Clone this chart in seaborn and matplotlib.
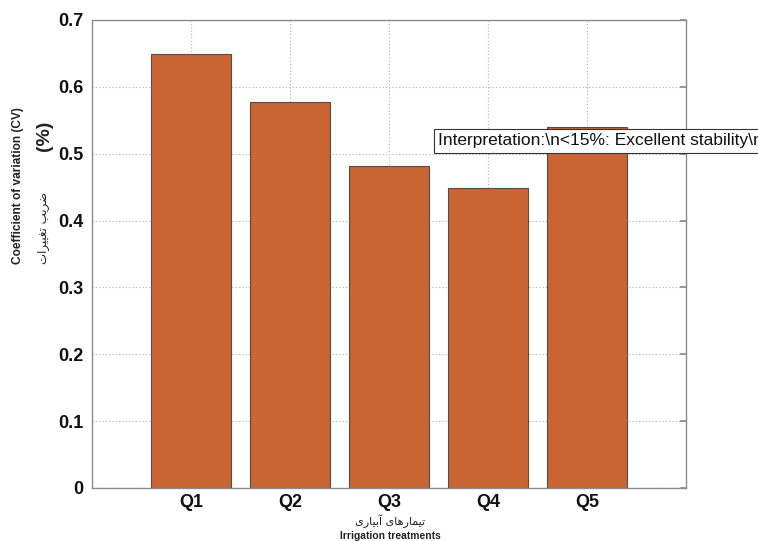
import numpy as np
import pandas as pd
import seaborn as sns
import matplotlib.pyplot as plt

# data
treatments = ["Q1", "Q2", "Q3", "Q4", "Q5"]
cv_values = [0.649, 0.577, 0.482, 0.449, 0.540]
y_ticks = [0, 0.1, 0.2, 0.3, 0.4, 0.5, 0.6, 0.7]
y_tick_labels = ["0", "0.1", "0.2", "0.3", "0.4", "0.5", "0.6", "0.7"]

# persian labels, pre-shaped into presentation forms (visual order)
ylabel_fa = "\ufe95\ufe8d\ufeae\ufef4\ufef4\ufed0\ufe97 \ufe90\ufef3\ufeae\ufebf"
xlabel_fa = "\ufeef\ufead\ufe8e\ufef4\ufe91\ufe81 \ufeef\ufe8e\ufeeb\ufead\ufe8e\ufee4\ufef4\ufe97"
note = r"Interpretation:\n<15%: Excellent stability\n15-30%: Good stability\n>30%: Low stability"

df = pd.DataFrame({"treatment": treatments, "cv": cv_values})

sns.set_theme(style="white")
plt.rcParams["font.family"] = ["Liberation Sans", "DejaVu Sans"]

fig = plt.figure(figsize=(7.58, 5.41), dpi=100)
ax = fig.add_axes([92 / 758, 1 - 488 / 541, 594 / 758, 468 / 541])

sns.barplot(data=df, x="treatment", y="cv", color="#c96533", saturation=1,
            width=0.8, edgecolor="#5a4a44", linewidth=0.8, ax=ax)

ax.set_xlim(-1, 5)
ax.set_ylim(0, 0.7)
ax.set_yticks(y_ticks)
ax.set_yticklabels(y_tick_labels)
ax.set_axisbelow(True)
ax.grid(True, linestyle=(0, (1, 2)), color="#b0b0b0", linewidth=0.8)

for s in ax.spines.values():
    s.set_color("#8c8c8c")
    s.set_linewidth(1.0)

ax.tick_params(axis="both", direction="in", length=4, color="#8c8c8c",
               right=True, top=False, labelsize=13, pad=6)
ax.tick_params(axis="x", length=0, pad=4)
for lab in ax.get_xticklabels() + ax.get_yticklabels():
    lab.set_fontweight("bold")
    lab.set_color("#111111")

ax.set_xlabel("")
ax.set_ylabel("")

# y label pieces
fig.text(18 / 758, 1 - 186 / 541, "Coefficient of variation (CV)", rotation=90,
         ha="center", va="center", fontsize=8.6, fontweight="bold", color="#222222")
fig.text(43 / 758, 1 - 228 / 541, ylabel_fa, rotation=90, family="DejaVu Sans",
         ha="center", va="center", fontsize=8.5, color="#222222")
fig.text(44 / 758, 1 - 136 / 541, "(%)", rotation=90,
         ha="center", va="center", fontsize=14, fontweight="bold", color="#222222")

# x label pieces
fig.text(390 / 758, 1 - 521 / 541, xlabel_fa, family="DejaVu Sans",
         ha="center", va="center", fontsize=8, color="#222222")
fig.text(390 / 758, 1 - 531 / 541, "Irrigation treatments",
         ha="center", va="top", fontsize=7.4, fontweight="bold", color="#222222")

# interpretation box, runs off the right edge like the original
fig.text(438 / 758, 1 - 141 / 541, note, ha="left", va="center",
         fontsize=12.5, color="#111111", zorder=10,
         bbox=dict(boxstyle="square,pad=0.25", facecolor="white",
                   edgecolor="#333333", linewidth=0.8))

fig.savefig("out.png", dpi=100)
